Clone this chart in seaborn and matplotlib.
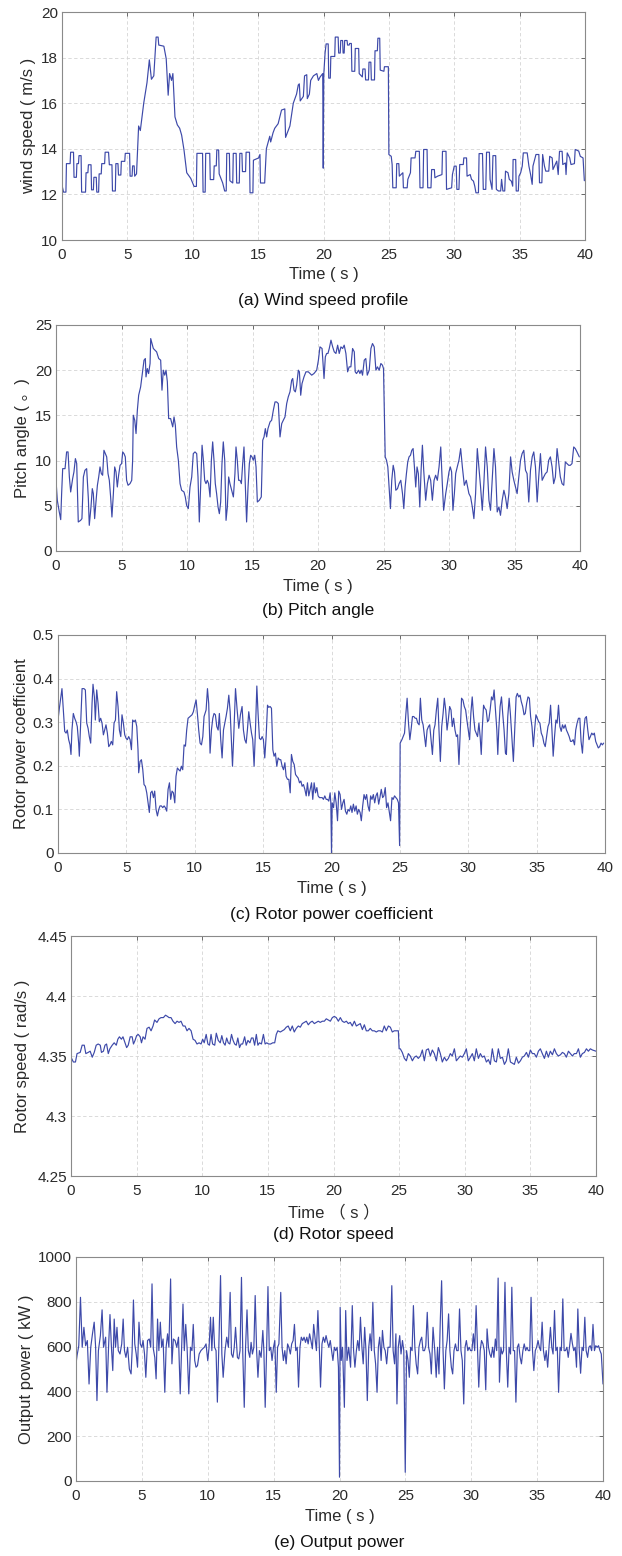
#!/usr/bin/env python
# -*- coding: utf-8 -*-

"""
Wind turbine response over 40 s: wind speed, pitch angle,
rotor power coefficient, rotor speed and output power.
"""

import matplotlib
matplotlib.use("Agg")
import matplotlib.pyplot as plt
import seaborn as sns

# ---------------------------------------------------------------- data
# (a) wind speed, m/s
wind_t = [0.00, 0.12, 0.30, 0.34, 0.62, 0.66, 0.88, 0.92, 1.10, 1.14, 1.26, 1.30, 1.46, 1.50, 1.80, 1.84,
          1.98, 2.02, 2.22, 2.26, 2.40, 2.44, 2.62, 2.66, 2.80, 2.84, 3.00, 3.04, 3.26, 3.30, 3.56, 3.62,
          3.82, 3.86, 4.08, 4.12, 4.28, 4.32, 4.50, 4.54, 4.80, 4.84, 5.17, 5.21, 5.36, 5.40, 5.52, 5.56,
          5.70, 5.86, 5.99, 6.25, 6.50, 6.68, 6.84, 7.02, 7.20, 7.35, 7.40, 7.79, 7.97, 8.12, 8.23, 8.38,
          8.48, 8.64, 8.82, 9.00, 9.15, 9.33, 9.54, 9.85, 10.10, 10.28, 10.32, 10.75, 10.79, 10.95, 10.99,
          11.30, 11.34, 11.60, 11.64, 11.80, 11.84, 11.98, 12.02, 12.29, 12.44, 12.56, 12.60, 12.80, 12.84,
          13.06, 13.10, 13.32, 13.36, 13.56, 13.60, 13.76, 13.80, 14.04, 14.08, 14.34, 14.38, 14.60, 14.64,
          15.04, 15.14, 15.18, 15.50, 15.63, 15.89, 15.96, 16.14, 16.27, 16.53, 16.79, 17.04, 17.10, 17.43,
          17.69, 17.94, 18.07, 18.15, 18.22, 18.46, 18.55, 18.72, 18.76, 18.92, 19.02, 19.23, 19.49, 19.61,
          19.74, 19.94, 19.98, 20.02, 20.12, 20.20, 20.36, 20.40, 20.52, 20.56, 20.86, 20.90, 21.12, 21.16,
          21.28, 21.32, 21.46, 21.50, 21.58, 21.62, 21.80, 21.84, 21.96, 22.00, 22.13, 22.17, 22.39, 22.43,
          22.69, 22.73, 22.97, 23.01, 23.18, 23.22, 23.44, 23.48, 23.62, 23.66, 23.90, 23.94, 24.12, 24.16,
          24.30, 24.34, 24.62, 24.66, 24.96, 25.00, 25.18, 25.25, 25.30, 25.56, 25.60, 25.76, 25.80, 26.07,
          26.11, 26.40, 26.45, 26.65, 26.70, 27.00, 27.06, 27.33, 27.38, 27.61, 27.66, 27.92, 27.97, 28.22,
          28.27, 28.48, 28.52, 28.73, 29.06, 29.10, 29.37, 29.41, 29.80, 29.86, 30.00, 30.15, 30.20, 30.36,
          30.42, 30.69, 30.73, 30.94, 30.98, 31.22, 31.32, 31.47, 31.57, 31.66, 31.85, 31.90, 32.16, 32.22,
          32.41, 32.47, 32.69, 32.74, 32.89, 32.96, 33.17, 33.22, 33.38, 33.55, 33.62, 33.72, 33.86, 33.92,
          34.11, 34.21, 34.37, 34.47, 34.50, 34.70, 34.74, 34.90, 34.95, 35.08, 35.20, 35.28, 35.58, 35.71,
          35.84, 35.96, 36.02, 36.25, 36.47, 36.52, 36.70, 36.76, 36.90, 37.00, 37.23, 37.30, 37.49, 37.55,
          37.84, 37.95, 38.05, 38.25, 38.30, 38.50, 38.55, 38.64, 38.83, 38.93, 39.19, 39.25, 39.52, 39.64,
          39.85, 39.95]
wind_v = [12.4, 12.1, 12.1, 13.35, 13.35, 13.85, 13.85, 12.75, 12.75, 13.35, 13.35, 13.7, 13.7, 12.1, 12.1, 12.95,
          12.95, 13.3, 13.3, 12.2, 12.2, 12.75, 12.75, 12.1, 12.1, 12.9, 12.9, 13.35, 13.35, 13.85, 13.85, 13.3,
          13.3, 12.15, 12.15, 13.35, 13.35, 12.85, 12.85, 13.45, 13.45, 13.8, 13.8, 12.8, 12.8, 13.25, 13.25, 12.8,
          12.9, 15.0, 14.8, 16.0, 16.9, 17.9, 17.05, 17.2, 18.9, 18.9, 18.55, 18.5, 17.95, 16.35, 17.3, 17.0,
          17.3, 15.4, 15.05, 14.9, 14.6, 13.95, 12.95, 12.7, 12.35, 12.35, 13.8, 13.8, 12.1, 12.1, 13.8,
          13.8, 12.65, 12.65, 13.25, 13.25, 13.95, 13.95, 12.9, 12.5, 12.15, 12.15, 13.8, 13.8, 12.6,
          12.5, 13.8, 13.8, 12.5, 12.5, 13.8, 13.8, 13.0, 13.0, 13.85, 13.85, 12.07, 12.07, 13.5,
          13.6, 13.75, 12.5, 12.5, 14.0, 14.55, 14.3, 14.7, 14.9, 15.1, 15.7, 15.75, 14.5, 15.0,
          16.0, 16.4, 16.8, 16.85, 16.1, 16.3, 17.2, 17.25, 16.2, 16.4, 17.0, 17.2, 17.3, 17.0,
          17.15, 17.3, 13.15, 17.25, 18.2, 18.6, 18.6, 17.1, 17.1, 18.05, 18.05, 18.9, 18.9, 18.2,
          18.2, 18.75, 18.75, 18.2, 18.2, 18.75, 18.75, 18.55, 18.55, 18.62, 18.62, 17.4, 17.4, 18.4,
          18.4, 17.3, 17.15, 17.5, 17.5, 17.02, 17.02, 17.8, 17.8, 17.02, 17.02, 18.3, 18.3, 18.85,
          18.85, 17.45, 17.4, 17.6, 17.6, 13.75, 13.67, 13.31, 12.29, 12.29, 13.35, 13.35, 12.8, 12.95,
          12.29, 12.29, 12.66, 12.95, 13.6, 13.6, 13.89, 13.89, 12.29, 12.29, 13.97, 13.97, 12.29, 12.29,
          13.09, 13.09, 12.73, 12.8, 12.87, 13.89, 13.89, 12.22, 12.29, 12.87, 13.24, 13.24, 12.22, 12.22,
          13.31, 13.31, 13.6, 13.6, 12.8, 12.87, 12.66, 12.58, 12.36, 12.07, 12.07, 13.79, 13.79, 12.22,
          12.22, 13.85, 13.85, 12.66, 12.22, 13.7, 13.7, 12.22, 12.15, 12.15, 12.66, 12.15, 12.15, 13.02,
          12.95, 12.66, 12.58, 12.36, 13.53, 13.53, 12.15, 12.15, 12.8, 12.95, 13.24, 13.82, 13.82, 13.24,
          12.87, 12.44, 13.24, 13.75, 13.75, 12.51, 12.51, 13.75, 13.24, 13.02, 13.02, 13.67, 13.6, 13.09,
          13.46, 12.87, 13.89, 13.89, 13.31, 13.38, 12.87, 13.82, 13.6, 13.31, 13.35, 13.97, 13.9, 13.67,
          13.6, 12.6]

# (b) pitch angle, degrees
pitch_t = [0.00, 0.10, 0.25, 0.36, 0.43, 0.51, 0.69, 0.81, 0.92, 1.02, 1.12, 1.27, 1.37, 1.48, 1.58, 1.70,
           1.88, 1.98, 2.09, 2.21, 2.34, 2.47, 2.54, 2.67, 2.77, 2.85, 2.95, 3.05, 3.16, 3.26, 3.36, 3.46,
           3.56, 3.66, 3.77, 3.87, 3.97, 4.07, 4.17, 4.27, 4.38, 4.48, 4.58, 4.68, 4.78, 4.89, 5.01, 5.09,
           5.19, 5.29, 5.39, 5.50, 5.65, 5.78, 5.85, 5.90, 6.01, 6.11, 6.21, 6.31, 6.46, 6.62, 6.72, 6.82,
           6.87, 6.97, 7.07, 7.18, 7.23, 7.33, 7.43, 7.68, 7.84, 7.99, 8.09, 8.19, 8.30, 8.40, 8.50, 8.60,
           8.75, 8.91, 9.01, 9.11, 9.21, 9.34, 9.47, 9.59, 9.77, 9.87, 9.97, 10.10, 10.23, 10.36, 10.48,
           10.61, 10.74, 10.84, 10.94, 11.04, 11.15, 11.25, 11.35, 11.45, 11.55, 11.65, 11.76, 11.86, 11.96,
           12.06, 12.16, 12.26, 12.37, 12.47, 12.57, 12.67, 12.77, 12.88, 12.98, 13.08, 13.18, 13.28, 13.41,
           13.54, 13.66, 13.74, 13.84, 13.94, 14.05, 14.15, 14.25, 14.35, 14.45, 14.55, 14.66, 14.76, 14.86,
           14.96, 15.06, 15.17, 15.27, 15.37, 15.52, 15.67, 15.78, 15.88, 15.98, 16.08, 16.18, 16.34, 16.46,
           16.59, 16.72, 16.84, 16.97, 17.10, 17.23, 17.35, 17.48, 17.61, 17.73, 17.86, 17.99, 18.07, 18.17,
           18.27, 18.37, 18.50, 18.58, 18.68, 18.78, 18.93, 19.08, 19.26, 19.39, 19.52, 19.69, 19.90, 20.03,
           20.15, 20.31, 20.46, 20.56, 20.66, 20.76, 20.86, 20.99, 21.12, 21.24, 21.37, 21.50, 21.62, 21.75,
           21.88, 22.00, 22.13, 22.26, 22.38, 22.51, 22.64, 22.77, 22.84, 22.94, 23.10, 23.20, 23.30, 23.40,
           23.53, 23.65, 23.76, 23.91, 24.04, 24.16, 24.29, 24.42, 24.54, 24.67, 24.80, 24.92, 25.00, 25.08,
           25.13, 25.23, 25.33, 25.43, 25.53, 25.63, 25.74, 25.84, 25.94, 26.07, 26.19, 26.32, 26.45, 26.55,
           26.65, 26.75, 26.85, 26.95, 27.06, 27.16, 27.26, 27.36, 27.46, 27.56, 27.66, 27.77, 27.87, 27.97,
           28.07, 28.22, 28.35, 28.48, 28.60, 28.73, 28.86, 28.98, 29.11, 29.24, 29.37, 29.49, 29.59, 29.75,
           29.87, 30.00, 30.10, 30.20, 30.30, 30.41, 30.51, 30.63, 30.76, 30.89, 31.02, 31.17, 31.32, 31.42,
           31.52, 31.65, 31.78, 31.90, 32.03, 32.16, 32.28, 32.41, 32.54, 32.66, 32.79, 32.92, 33.05, 33.17,
           33.30, 33.43, 33.55, 33.68, 33.81, 33.93, 34.06, 34.19, 34.31, 34.44, 34.57, 34.70, 34.82, 34.95,
           35.08, 35.20, 35.33, 35.46, 35.58, 35.71, 35.84, 35.96, 36.09, 36.22, 36.35, 36.47, 36.60, 36.73,
           36.85, 36.98, 37.11, 37.23, 37.36, 37.49, 37.61, 37.74, 37.87, 37.99, 38.12, 38.25, 38.38, 38.50,
           38.63, 38.76, 38.88, 39.01, 39.14, 39.26, 39.39, 39.52, 39.64, 39.77, 39.95]
pitch_deg = [7.82, 5.61, 4.32, 3.47, 6.35, 9.11, 9.11, 10.96, 10.96, 8.19, 6.53, 8.0, 8.75, 10.22, 9.67, 3.21,
             3.39, 3.58, 8.19, 8.93, 9.11, 5.79, 2.84, 4.87, 6.9, 6.35, 3.58, 5.42, 7.27, 8.19, 9.3, 8.56,
             8.38, 11.14, 10.77, 10.41, 8.56, 7.82, 5.98, 3.76, 6.35, 9.3, 8.75, 7.08, 8.38, 9.48, 9.67, 10.96,
             10.77, 10.41, 7.82, 7.27, 7.45, 7.82, 10.04, 15.02, 14.46, 12.99, 15.57, 17.23, 18.15, 20.0, 21.11, 21.29,
             19.26, 20.18, 19.63, 20.74, 23.5, 22.95, 22.4, 22.03, 21.29, 21.11, 17.79, 20.0, 19.45, 20.0, 18.71, 14.65,
             14.65, 13.73, 14.83, 13.91, 11.51, 10.04, 7.45, 6.72, 6.53, 5.98, 5.06, 4.69, 7.08, 8.19, 10.77,
             10.96, 10.77, 8.19, 3.21, 7.08, 11.7, 10.04, 7.82, 7.45, 7.82, 7.45, 5.98, 10.04, 12.07,
             10.04, 7.45, 6.35, 4.87, 4.13, 5.42, 9.67, 12.07, 10.04, 3.39, 4.87, 8.19, 7.45, 6.72,
             5.98, 8.56, 11.51, 10.04, 7.82, 7.82, 7.45, 9.67, 11.51, 7.45, 3.21, 7.08, 9.67, 10.59,
             10.41, 10.04, 10.59, 9.3, 5.42, 5.61, 5.98, 12.25, 12.62, 13.54, 12.62, 13.54, 14.28, 14.46,
             15.57, 16.49, 16.49, 16.31, 12.62, 14.09, 14.46, 14.83, 16.31, 17.05, 17.6, 18.89, 19.08, 17.79,
             17.6, 18.34, 20.0, 19.82, 17.23, 18.52, 19.26, 19.82, 19.82, 19.63, 19.45, 19.63, 20.0, 21.11,
             22.58, 22.4, 19.08, 21.48, 21.85, 21.85, 22.4, 23.32, 22.58, 22.03, 21.85, 22.77, 21.85, 22.58,
             22.4, 22.77, 21.85, 19.82, 20.37, 20.37, 22.4, 22.03, 19.82, 19.63, 20.0, 19.63, 20.0, 19.45,
             21.11, 21.29, 19.45, 20.0, 22.4, 22.95, 22.58, 20.0, 20.37, 20.0, 20.74, 20.55, 20.18, 14.46,
             10.41, 10.04, 9.3, 7.08, 4.69, 7.82, 9.48, 8.75, 6.72, 6.9, 7.45, 7.82, 6.35, 4.69,
             7.08, 8.56, 9.85, 10.41, 10.59, 11.14, 11.33, 9.3, 7.08, 9.3, 8.56, 4.87, 8.93, 11.7,
             8.93, 5.61, 7.45, 8.38, 7.82, 5.61, 7.82, 8.38, 7.82, 9.3, 11.51, 7.45, 4.5, 6.35,
             7.45, 8.75, 9.3, 8.75, 4.5, 6.35, 8.56, 9.3, 10.04, 11.33, 9.3, 7.27, 7.82, 7.08,
             6.35, 5.98, 4.87, 3.58, 6.35, 11.33, 9.3, 7.08, 4.5, 7.45, 11.51, 9.3, 5.61, 4.5,
             7.82, 11.33, 9.3, 4.32, 4.87, 3.95, 5.61, 6.72, 5.98, 4.69, 6.35, 10.41, 8.75, 7.82,
             7.08, 6.35, 8.19, 10.04, 10.77, 11.14, 8.93, 8.56, 5.42, 8.93, 10.41, 10.96, 9.3, 5.42,
             8.19, 10.77, 7.82, 8.19, 8.56, 8.75, 10.04, 10.41, 9.3, 7.45, 8.19, 11.33, 9.67, 8.19,
             7.45, 7.27, 9.85, 9.67, 9.48, 9.48, 9.67, 11.51, 11.33, 10.96, 10.41]

# (c) rotor power coefficient
cp_t = [0.00, 0.10, 0.20, 0.29, 0.39, 0.49, 0.59, 0.68, 0.78, 0.88, 0.95, 1.02, 1.12, 1.22, 1.32, 1.41,
        1.51, 1.56, 1.66, 1.76, 1.90, 2.00, 2.10, 2.20, 2.29, 2.39, 2.49, 2.56, 2.66, 2.73, 2.83, 2.93,
        3.02, 3.12, 3.22, 3.32, 3.41, 3.51, 3.61, 3.71, 3.80, 3.90, 4.00, 4.10, 4.20, 4.29, 4.39, 4.49,
        4.59, 4.68, 4.78, 4.88, 4.98, 5.07, 5.17, 5.27, 5.37, 5.46, 5.56, 5.66, 5.76, 5.85, 5.90, 6.00,
        6.10, 6.20, 6.29, 6.39, 6.49, 6.59, 6.68, 6.78, 6.88, 6.98, 7.07, 7.17, 7.27, 7.37, 7.46, 7.56,
        7.66, 7.76, 7.85, 7.95, 8.05, 8.15, 8.24, 8.34, 8.44, 8.54, 8.63, 8.73, 8.83, 8.93, 9.02, 9.12,
        9.22, 9.32, 9.41, 9.51, 9.66, 9.80, 9.90, 10.00, 10.10, 10.20, 10.29, 10.39, 10.49, 10.59, 10.68,
        10.83, 10.93, 11.02, 11.12, 11.22, 11.32, 11.41, 11.51, 11.61, 11.71, 11.80, 11.90, 12.00, 12.10,
        12.20, 12.29, 12.39, 12.49, 12.59, 12.68, 12.76, 12.85, 12.98, 13.10, 13.22, 13.34, 13.46, 13.56,
        13.66, 13.76, 13.85, 13.95, 14.05, 14.15, 14.24, 14.34, 14.44, 14.54, 14.63, 14.73, 14.83, 14.93,
        15.02, 15.12, 15.22, 15.32, 15.41, 15.51, 15.61, 15.71, 15.80, 15.90, 16.00, 16.10, 16.20, 16.29,
        16.39, 16.49, 16.59, 16.68, 16.78, 16.88, 16.98, 17.07, 17.17, 17.27, 17.37, 17.46, 17.56, 17.66,
        17.76, 17.85, 17.95, 18.05, 18.15, 18.24, 18.34, 18.44, 18.54, 18.63, 18.73, 18.83, 18.93, 19.02,
        19.12, 19.22, 19.32, 19.41, 19.51, 19.61, 19.71, 19.80, 19.90, 19.95, 20.00, 20.05, 20.15, 20.24,
        20.34, 20.44, 20.53, 20.63, 20.73, 20.83, 20.92, 21.02, 21.12, 21.21, 21.31, 21.41, 21.50, 21.60,
        21.70, 21.80, 21.89, 21.99, 22.09, 22.18, 22.28, 22.38, 22.48, 22.57, 22.67, 22.77, 22.86, 22.96,
        23.06, 23.16, 23.25, 23.35, 23.45, 23.54, 23.64, 23.74, 23.83, 23.93, 24.03, 24.13, 24.22, 24.32,
        24.42, 24.51, 24.61, 24.71, 24.81, 24.90, 24.98, 25.02, 25.15, 25.24, 25.34, 25.44, 25.53, 25.63,
        25.73, 25.83, 25.92, 26.02, 26.12, 26.21, 26.31, 26.41, 26.50, 26.60, 26.70, 26.80, 26.89, 26.99,
        27.09, 27.18, 27.28, 27.38, 27.48, 27.57, 27.67, 27.77, 27.86, 27.96, 28.06, 28.16, 28.25, 28.35,
        28.45, 28.54, 28.64, 28.74, 28.83, 28.93, 29.03, 29.13, 29.22, 29.32, 29.42, 29.51, 29.61, 29.71,
        29.81, 29.90, 30.00, 30.10, 30.19, 30.29, 30.39, 30.49, 30.58, 30.68, 30.78, 30.87, 30.95, 31.02,
        31.12, 31.21, 31.31, 31.41, 31.50, 31.60, 31.70, 31.80, 31.89, 31.99, 32.09, 32.16, 32.23, 32.33,
        32.43, 32.52, 32.62, 32.72, 32.79, 32.89, 32.99, 33.08, 33.20, 33.30, 33.40, 33.50, 33.59, 33.69,
        33.79, 33.88, 33.98, 34.08, 34.17, 34.27, 34.37, 34.47, 34.56, 34.66, 34.76, 34.85, 34.95, 35.05,
        35.15, 35.24, 35.34, 35.44, 35.53, 35.63, 35.73, 35.83, 35.92, 36.02, 36.12, 36.21, 36.31, 36.41,
        36.50, 36.60, 36.70, 36.80, 36.89, 36.99, 37.09, 37.18, 37.28, 37.38, 37.48, 37.57, 37.67, 37.77,
        37.86, 37.96, 38.06, 38.16, 38.25, 38.35, 38.45, 38.54, 38.64, 38.74, 38.83, 38.93, 39.03, 39.13,
        39.22, 39.32, 39.42, 39.51, 39.61, 39.71, 39.81, 39.90]
cp_val = [0.305, 0.332, 0.355, 0.377, 0.328, 0.279, 0.275, 0.282, 0.26, 0.248, 0.226, 0.282, 0.32, 0.309, 0.301, 0.29,
          0.252, 0.222, 0.298, 0.377, 0.377, 0.374, 0.298, 0.286, 0.267, 0.252, 0.343, 0.387, 0.358, 0.305, 0.374, 0.343,
          0.301, 0.309, 0.298, 0.271, 0.282, 0.294, 0.275, 0.244, 0.248, 0.256, 0.248, 0.298, 0.305, 0.37, 0.336, 0.282,
          0.267, 0.317, 0.298, 0.271, 0.263, 0.26, 0.267, 0.26, 0.237, 0.305, 0.301, 0.305, 0.29, 0.237, 0.184, 0.21,
          0.214, 0.191, 0.157, 0.153, 0.138, 0.115, 0.093, 0.138, 0.142, 0.127, 0.142, 0.1, 0.085, 0.1, 0.108, 0.108,
          0.104, 0.108, 0.104, 0.096, 0.146, 0.161, 0.123, 0.142, 0.138, 0.115, 0.176, 0.195, 0.191, 0.188, 0.199, 0.191,
          0.248, 0.245, 0.282, 0.309, 0.313, 0.317, 0.324, 0.339, 0.351, 0.317, 0.282, 0.252, 0.248, 0.267, 0.313,
          0.328, 0.377, 0.343, 0.229, 0.282, 0.309, 0.32, 0.317, 0.29, 0.282, 0.32, 0.26, 0.218, 0.282,
          0.298, 0.313, 0.332, 0.362, 0.324, 0.26, 0.199, 0.267, 0.377, 0.328, 0.286, 0.317, 0.336, 0.282,
          0.26, 0.252, 0.282, 0.324, 0.298, 0.275, 0.26, 0.199, 0.282, 0.383, 0.32, 0.263, 0.26, 0.267,
          0.26, 0.218, 0.267, 0.339, 0.334, 0.336, 0.332, 0.237, 0.222, 0.229, 0.199, 0.218, 0.214, 0.214,
          0.199, 0.191, 0.207, 0.176, 0.169, 0.169, 0.138, 0.226, 0.21, 0.203, 0.18, 0.176, 0.172, 0.161,
          0.165, 0.153, 0.157, 0.146, 0.131, 0.161, 0.131, 0.146, 0.161, 0.123, 0.161, 0.138, 0.15, 0.131,
          0.127, 0.127, 0.127, 0.123, 0.131, 0.123, 0.123, 0.119, 0.138, 0.115, 0.0, 0.115, 0.104, 0.138,
          0.115, 0.074, 0.142, 0.134, 0.1, 0.115, 0.123, 0.096, 0.089, 0.1, 0.096, 0.108, 0.093, 0.112,
          0.096, 0.108, 0.089, 0.1, 0.093, 0.074, 0.108, 0.134, 0.123, 0.134, 0.108, 0.096, 0.131, 0.123,
          0.134, 0.115, 0.131, 0.138, 0.112, 0.127, 0.146, 0.127, 0.131, 0.15, 0.104, 0.115, 0.096, 0.074,
          0.127, 0.123, 0.131, 0.127, 0.123, 0.115, 0.017, 0.252, 0.26, 0.267, 0.275, 0.32, 0.355, 0.298,
          0.26, 0.286, 0.313, 0.313, 0.309, 0.309, 0.298, 0.294, 0.355, 0.305, 0.294, 0.267, 0.244, 0.282,
          0.29, 0.294, 0.26, 0.226, 0.282, 0.294, 0.328, 0.355, 0.282, 0.21, 0.29, 0.32, 0.355, 0.328,
          0.282, 0.305, 0.336, 0.328, 0.29, 0.309, 0.282, 0.267, 0.271, 0.203, 0.282, 0.355, 0.351, 0.336,
          0.328, 0.305, 0.282, 0.26, 0.32, 0.358, 0.313, 0.282, 0.275, 0.267, 0.298, 0.267, 0.226, 0.282,
          0.339, 0.332, 0.328, 0.301, 0.305, 0.328, 0.358, 0.351, 0.374, 0.328, 0.282, 0.226, 0.282, 0.336,
          0.358, 0.32, 0.282, 0.229, 0.226, 0.313, 0.355, 0.32, 0.26, 0.21, 0.282, 0.358, 0.366, 0.358,
          0.362, 0.347, 0.336, 0.317, 0.32, 0.343, 0.358, 0.355, 0.313, 0.29, 0.244, 0.282, 0.317, 0.309,
          0.301, 0.298, 0.275, 0.267, 0.252, 0.244, 0.267, 0.29, 0.298, 0.339, 0.282, 0.222, 0.267, 0.305,
          0.298, 0.339, 0.29, 0.279, 0.294, 0.286, 0.294, 0.282, 0.275, 0.267, 0.256, 0.256, 0.26, 0.248,
          0.282, 0.298, 0.309, 0.309, 0.256, 0.229, 0.282, 0.309, 0.313, 0.282, 0.26, 0.267, 0.275, 0.271,
          0.275, 0.256, 0.248, 0.241, 0.244, 0.252, 0.248, 0.252]

# (d) rotor speed, rad/s
speed_t = [0.00, 0.18, 0.34, 0.46, 0.70, 0.85, 1.01, 1.13, 1.31, 1.46, 1.62, 1.77, 1.92, 2.07, 2.23, 2.32,
           2.47, 2.59, 2.71, 2.84, 2.96, 3.14, 3.29, 3.45, 3.57, 3.69, 3.84, 3.96, 4.12, 4.24, 4.36, 4.51,
           4.66, 4.76, 4.88, 5.00, 5.12, 5.27, 5.37, 5.49, 5.64, 5.79, 5.95, 6.10, 6.25, 6.37, 6.55, 6.71,
           6.86, 7.04, 7.20, 7.35, 7.47, 7.62, 7.77, 7.93, 8.08, 8.23, 8.38, 8.54, 8.69, 8.84, 8.99, 9.15,
           9.30, 9.45, 9.60, 9.76, 9.91, 10.03, 10.15, 10.30, 10.43, 10.55, 10.67, 10.79, 10.95, 11.07, 11.22,
           11.37, 11.49, 11.62, 11.74, 11.86, 11.98, 12.10, 12.23, 12.35, 12.47, 12.59, 12.71, 12.84, 12.96,
           13.08, 13.23, 13.35, 13.48, 13.63, 13.75, 13.87, 13.99, 14.12, 14.24, 14.36, 14.51, 14.66, 14.79,
           14.91, 15.06, 15.21, 15.37, 15.52, 15.64, 15.76, 15.95, 16.10, 16.25, 16.40, 16.55, 16.71, 16.86,
           17.01, 17.16, 17.32, 17.47, 17.62, 17.77, 17.93, 18.08, 18.23, 18.38, 18.54, 18.69, 18.84, 18.99,
           19.15, 19.30, 19.45, 19.60, 19.76, 19.91, 20.06, 20.21, 20.37, 20.52, 20.67, 20.82, 20.98, 21.13,
           21.28, 21.43, 21.59, 21.74, 21.89, 22.04, 22.20, 22.35, 22.50, 22.65, 22.80, 22.96, 23.11, 23.26,
           23.41, 23.57, 23.72, 23.87, 24.02, 24.18, 24.33, 24.48, 24.63, 24.79, 24.94, 25.00, 25.09, 25.24,
           25.40, 25.55, 25.70, 25.85, 26.01, 26.16, 26.31, 26.46, 26.62, 26.77, 26.92, 27.07, 27.23, 27.38,
           27.53, 27.68, 27.84, 27.99, 28.14, 28.29, 28.45, 28.60, 28.75, 28.90, 29.05, 29.21, 29.36, 29.51,
           29.66, 29.82, 29.97, 30.12, 30.27, 30.43, 30.58, 30.73, 30.88, 31.04, 31.19, 31.34, 31.49, 31.65,
           31.80, 31.95, 32.10, 32.26, 32.41, 32.56, 32.71, 32.87, 33.02, 33.17, 33.32, 33.48, 33.63, 33.78,
           33.93, 34.09, 34.24, 34.39, 34.54, 34.70, 34.85, 35.00, 35.15, 35.30, 35.46, 35.61, 35.76, 35.91,
           36.07, 36.22, 36.37, 36.52, 36.68, 36.83, 36.98, 37.13, 37.29, 37.44, 37.59, 37.74, 37.90, 38.05,
           38.20, 38.35, 38.51, 38.66, 38.81, 38.96, 39.12, 39.27, 39.42, 39.57, 39.73, 40.00]
speed_val = [4.349, 4.345, 4.345, 4.352, 4.353, 4.359, 4.359, 4.352, 4.353, 4.354, 4.349, 4.353, 4.359, 4.360, 4.359, 4.353,
             4.354, 4.359, 4.360, 4.352, 4.356, 4.359, 4.361, 4.359, 4.364, 4.366, 4.364, 4.366, 4.361, 4.357, 4.359, 4.366,
             4.366, 4.360, 4.363, 4.367, 4.368, 4.366, 4.361, 4.366, 4.364, 4.373, 4.374, 4.371, 4.375, 4.380, 4.378, 4.381,
             4.382, 4.382, 4.384, 4.383, 4.382, 4.382, 4.379, 4.377, 4.379, 4.378, 4.379, 4.375, 4.375, 4.371, 4.373, 4.371,
             4.364, 4.363, 4.360, 4.361, 4.360, 4.364, 4.361, 4.368, 4.360, 4.359, 4.368, 4.360, 4.359, 4.369, 4.363,
             4.361, 4.367, 4.361, 4.359, 4.365, 4.361, 4.360, 4.368, 4.363, 4.360, 4.359, 4.365, 4.357, 4.360,
             4.360, 4.366, 4.359, 4.363, 4.361, 4.365, 4.365, 4.359, 4.368, 4.359, 4.361, 4.360, 4.368, 4.360,
             4.361, 4.360, 4.360, 4.361, 4.361, 4.368, 4.371, 4.370, 4.371, 4.372, 4.374, 4.375, 4.371, 4.375,
             4.370, 4.373, 4.375, 4.374, 4.377, 4.378, 4.379, 4.376, 4.378, 4.379, 4.377, 4.378, 4.379, 4.378,
             4.379, 4.379, 4.381, 4.380, 4.379, 4.382, 4.383, 4.382, 4.379, 4.382, 4.379, 4.378, 4.379, 4.377,
             4.378, 4.375, 4.379, 4.375, 4.376, 4.377, 4.372, 4.376, 4.371, 4.371, 4.373, 4.371, 4.371, 4.370,
             4.371, 4.371, 4.370, 4.375, 4.371, 4.375, 4.374, 4.370, 4.371, 4.371, 4.371, 4.356, 4.356, 4.353,
             4.348, 4.346, 4.352, 4.350, 4.346, 4.349, 4.350, 4.348, 4.350, 4.355, 4.346, 4.355, 4.356, 4.350,
             4.355, 4.352, 4.346, 4.357, 4.352, 4.345, 4.349, 4.346, 4.348, 4.352, 4.350, 4.356, 4.346, 4.348,
             4.350, 4.349, 4.352, 4.356, 4.346, 4.349, 4.352, 4.346, 4.356, 4.348, 4.352, 4.349, 4.350, 4.345,
             4.347, 4.343, 4.356, 4.346, 4.345, 4.356, 4.348, 4.349, 4.343, 4.346, 4.356, 4.345, 4.344, 4.343,
             4.349, 4.344, 4.346, 4.349, 4.350, 4.353, 4.349, 4.355, 4.352, 4.352, 4.349, 4.354, 4.356, 4.352,
             4.348, 4.354, 4.349, 4.354, 4.351, 4.356, 4.352, 4.350, 4.351, 4.353, 4.352, 4.349, 4.354, 4.352,
             4.350, 4.352, 4.352, 4.356, 4.349, 4.352, 4.353, 4.356, 4.354, 4.356, 4.355, 4.354]

# (e) output power, kW
power_t = [0.00, 0.08, 0.21, 0.34, 0.47, 0.60, 0.73, 0.86, 0.99, 1.12, 1.25, 1.38, 1.49, 1.59, 1.70, 1.85,
           1.98, 2.09, 2.25, 2.35, 2.48, 2.58, 2.69, 2.79, 2.90, 3.00, 3.11, 3.21, 3.34, 3.47, 3.58, 3.68,
           3.79, 3.92, 4.05, 4.18, 4.26, 4.36, 4.46, 4.57, 4.67, 4.78, 4.88, 4.99, 5.09, 5.20, 5.30, 5.43,
           5.56, 5.67, 5.77, 5.87, 5.98, 6.08, 6.19, 6.29, 6.40, 6.50, 6.61, 6.74, 6.84, 6.95, 7.05, 7.18,
           7.28, 7.39, 7.52, 7.65, 7.78, 7.91, 8.02, 8.12, 8.22, 8.33, 8.43, 8.56, 8.69, 8.80, 8.90, 9.01,
           9.11, 9.22, 9.35, 9.48, 9.61, 9.74, 9.87, 10.00, 10.10, 10.21, 10.31, 10.42, 10.52, 10.63, 10.73,
           10.84, 10.97, 11.07, 11.17, 11.31, 11.44, 11.57, 11.70, 11.80, 11.91, 12.01, 12.11, 12.25, 12.35,
           12.45, 12.56, 12.66, 12.77, 12.87, 12.98, 13.08, 13.19, 13.29, 13.39, 13.50, 13.60, 13.71, 13.81,
           13.92, 14.05, 14.18, 14.26, 14.36, 14.46, 14.57, 14.67, 14.78, 14.88, 14.99, 15.09, 15.20, 15.30,
           15.40, 15.54, 15.64, 15.74, 15.85, 15.95, 16.06, 16.16, 16.27, 16.37, 16.48, 16.58, 16.68, 16.79,
           16.89, 17.00, 17.10, 17.21, 17.31, 17.42, 17.52, 17.62, 17.73, 17.83, 17.94, 18.04, 18.15, 18.25,
           18.36, 18.46, 18.56, 18.67, 18.77, 18.88, 18.98, 19.09, 19.19, 19.30, 19.40, 19.50, 19.61, 19.71,
           19.82, 19.92, 20.00, 20.05, 20.13, 20.23, 20.37, 20.47, 20.57, 20.70, 20.84, 20.97, 21.07, 21.17,
           21.28, 21.38, 21.49, 21.59, 21.70, 21.80, 21.91, 22.01, 22.11, 22.22, 22.32, 22.43, 22.53, 22.64,
           22.74, 22.85, 22.95, 23.05, 23.16, 23.26, 23.37, 23.47, 23.58, 23.68, 23.84, 23.97, 24.07, 24.18,
           24.28, 24.36, 24.46, 24.57, 24.67, 24.78, 24.88, 24.99, 25.09, 25.20, 25.30, 25.40, 25.51, 25.61,
           25.72, 25.82, 25.93, 26.03, 26.14, 26.24, 26.34, 26.45, 26.55, 26.66, 26.76, 26.87, 26.97, 27.10,
           27.23, 27.34, 27.44, 27.55, 27.65, 27.75, 27.86, 27.96, 28.07, 28.17, 28.28, 28.38, 28.49, 28.59,
           28.69, 28.80, 28.90, 29.01, 29.11, 29.22, 29.32, 29.43, 29.53, 29.63, 29.74, 29.84, 29.95, 30.05,
           30.16, 30.26, 30.37, 30.47, 30.57, 30.68, 30.78, 30.89, 30.99, 31.10, 31.20, 31.31, 31.41, 31.51,
           31.62, 31.72, 31.83, 31.93, 32.04, 32.14, 32.25, 32.35, 32.45, 32.56, 32.66, 32.77, 32.87, 32.98,
           33.08, 33.19, 33.29, 33.39, 33.50, 33.60, 33.71, 33.81, 33.92, 34.02, 34.13, 34.23, 34.33, 34.44,
           34.54, 34.65, 34.75, 34.86, 34.96, 35.07, 35.17, 35.27, 35.38, 35.48, 35.59, 35.69, 35.80, 35.90,
           36.01, 36.11, 36.21, 36.32, 36.42, 36.53, 36.63, 36.74, 36.84, 36.95, 37.05, 37.15, 37.26, 37.36,
           37.47, 37.57, 37.68, 37.78, 37.89, 37.99, 38.09, 38.20, 38.30, 38.41, 38.51, 38.62, 38.72, 38.83,
           38.93, 39.03, 39.14, 39.24, 39.35, 39.45, 39.56, 39.66, 39.77, 39.87, 40.00]
power_kw = [523, 560, 604, 820, 597, 686, 604, 627, 433, 597, 657, 709, 597, 359, 582, 649,
            764, 597, 642, 396, 612, 743, 597, 493, 723, 597, 686, 582, 567, 612, 723, 582,
            552, 597, 500, 478, 582, 808, 612, 567, 508, 709, 612, 597, 627, 567, 463, 627,
            634, 597, 880, 590, 552, 456, 723, 582, 709, 597, 634, 396, 597, 657, 597, 902,
            523, 634, 627, 597, 642, 389, 597, 790, 582, 699, 597, 389, 597, 582, 699, 538,
            508, 515, 567, 582, 590, 597, 612, 537, 597, 731, 582, 731, 597, 582, 352,
            597, 917, 567, 463, 582, 642, 597, 842, 567, 552, 597, 686, 552, 545,
            582, 909, 567, 329, 597, 764, 582, 552, 619, 567, 597, 828, 582, 463,
            582, 552, 672, 582, 329, 567, 868, 582, 597, 538, 597, 627, 396, 597,
            612, 842, 597, 538, 582, 523, 612, 597, 567, 612, 627, 699, 582, 597,
            419, 597, 642, 627, 642, 619, 642, 612, 657, 627, 590, 699, 634, 582,
            761, 612, 419, 612, 642, 619, 649, 619, 597, 627, 582, 538, 597, 582,
            597, 508, 17, 775, 538, 597, 329, 761, 538, 597, 508, 783, 582, 508,
            582, 627, 582, 731, 597, 523, 686, 582, 359, 597, 657, 582, 798, 582,
            523, 396, 597, 642, 538, 672, 597, 582, 523, 597, 597, 872, 582, 523,
            657, 344, 597, 649, 567, 627, 582, 39, 582, 538, 463, 597, 582, 783,
            597, 523, 478, 597, 627, 642, 582, 582, 604, 753, 597, 567, 478, 686,
            582, 463, 597, 478, 716, 894, 582, 411, 582, 627, 746, 582, 508, 478,
            582, 612, 582, 582, 768, 582, 538, 344, 597, 627, 582, 597, 582, 582,
            657, 582, 783, 597, 419, 582, 627, 612, 582, 407, 679, 597, 567, 552,
            597, 552, 634, 582, 906, 441, 597, 567, 582, 887, 582, 419, 597, 567,
            865, 582, 582, 352, 597, 612, 552, 523, 582, 612, 582, 597, 582, 582,
            820, 582, 493, 582, 597, 627, 597, 582, 709, 582, 538, 582, 508, 597,
            686, 597, 567, 761, 582, 597, 396, 597, 582, 813, 582, 582, 597, 552,
            604, 659, 612, 582, 597, 508, 768, 582, 481, 597, 582, 731, 582, 552,
            597, 604, 582, 699, 582, 604, 597, 604, 582, 567, 433]

# axis settings
time_ticks = [0, 5, 10, 15, 20, 25, 30, 35, 40]
wind_ticks = [10, 12, 14, 16, 18, 20]
pitch_ticks = [0, 5, 10, 15, 20, 25]
cp_ticks = [0, 0.1, 0.2, 0.3, 0.4, 0.5]
cp_labels = ["0", "0.1", "0.2", "0.3", "0.4", "0.5"]
speed_ticks = [4.25, 4.3, 4.35, 4.4, 4.45]
speed_labels = ["4.25", "4.3", "4.35", "4.4", "4.45"]
power_ticks = [0, 200, 400, 600, 800, 1000]

# ---------------------------------------------------------------- style
W, H = 622, 1556
LINE_COLOR = "#3d49a9"
TEXT_COLOR = "#2a2a2a"

sns.set_style("white")
plt.rcParams["font.family"] = ["Liberation Sans", "Noto Sans CJK SC", "DejaVu Sans"]
plt.rcParams["font.size"] = 11
CAPTION_FONT = ["Liberation Sans Narrow", "Liberation Sans", "DejaVu Sans"]


def px_rect(left, right, top, bottom):
    """Pixel box -> figure fraction rectangle."""
    return [left / W, 1 - bottom / H, (right - left) / W, (bottom - top) / H]


def draw_panel(fig, rect, t, y, ylim, yticks, ylabels, ylabel, label_x,
               xlabel, caption, xlabel_y, caption_y):
    """Draws one MATLAB-like panel."""
    ax = fig.add_axes(px_rect(*rect))
    sns.lineplot(x=t, y=y, ax=ax, color=LINE_COLOR, linewidth=0.85,
                 estimator=None, sort=False)
    ax.set_xlim(0, 40)
    ax.set_ylim(*ylim)
    ax.set_xticks(time_ticks)
    ax.set_yticks(yticks)
    if ylabels is not None:
        ax.set_yticklabels(ylabels)
    ax.grid(True, color="#d4d4d4", linestyle=(0, (4, 3)), linewidth=0.6)
    ax.tick_params(direction="in", length=3, width=0.6, top=True, right=True,
                   colors="#555555", labelcolor=TEXT_COLOR, labelsize=11)
    ax.tick_params(axis="x", pad=6)
    ax.tick_params(axis="y", pad=3)
    for spine in ax.spines.values():
        spine.set_color("#8a8a8a")
        spine.set_linewidth(0.8)
    ax.set_ylabel(ylabel, color=TEXT_COLOR, fontsize=12)
    # right edge of the rotated label, in pixels from the figure edge
    ax.yaxis.set_label_coords((label_x - rect[0]) / (rect[1] - rect[0]), 0.5)
    ax.set_xlabel("")

    # x label and caption sit centred under the axes
    cx = (rect[0] + rect[1]) / 2 / W
    fig.text(cx, 1 - xlabel_y / H, xlabel, ha="center", va="center",
             fontsize=12, color=TEXT_COLOR)
    fig.text(cx, 1 - caption_y / H, caption, ha="center", va="center",
             fontsize=12.5, color="#111111", family=CAPTION_FONT)
    return ax


def main():
    fig = plt.figure(figsize=(W / 100, H / 100), dpi=100)

    draw_panel(fig, (62, 585, 12, 240), wind_t, wind_v, (10, 20), wind_ticks, None,
               "wind speed ( m/s )", 36, "Time ( s )", "(a) Wind speed profile", 275, 300)
    draw_panel(fig, (56, 580, 325, 551), pitch_t, pitch_deg, (0, 25), pitch_ticks, None,
               "Pitch angle ( 。)", 30, "Time ( s )", "(b) Pitch angle", 586, 611)
    draw_panel(fig, (58, 605, 635, 853), cp_t, cp_val, (0, 0.5), cp_ticks, cp_labels,
               "Rotor power coefficient", 29, "Time ( s )", "(c) Rotor power coefficient", 889, 914)
    draw_panel(fig, (71, 596, 936, 1176), speed_t, speed_val, (4.25, 4.45), speed_ticks, speed_labels,
               "Rotor speed ( rad/s )", 30, "Time （ s ）", "(d) Rotor speed", 1212, 1235)
    draw_panel(fig, (76, 603, 1257, 1481), power_t, power_kw, (0, 1000), power_ticks, None,
               "Output power ( kW )", 34, "Time ( s )", "(e) Output power", 1517, 1542)

    fig.savefig("out.png", dpi=100, facecolor="white")


if __name__ == "__main__":
    main()
